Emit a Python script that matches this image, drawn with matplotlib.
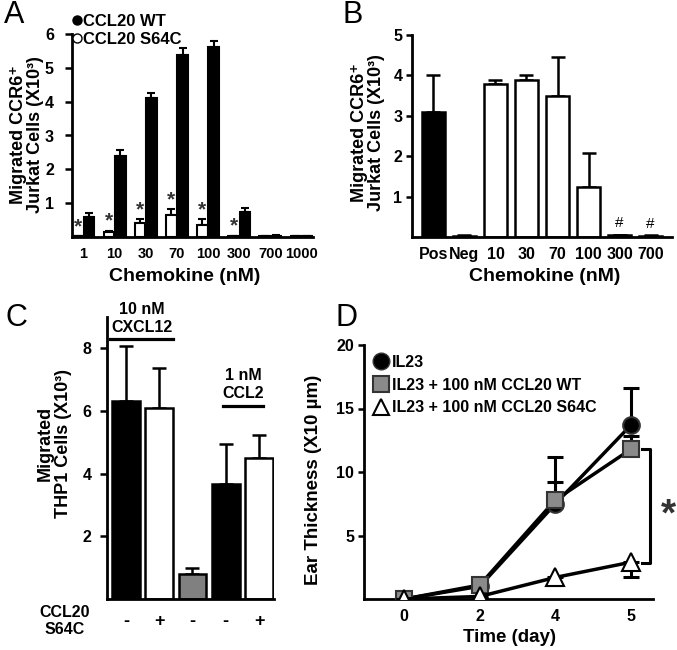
import matplotlib
matplotlib.use('Agg')
import matplotlib.pyplot as plt
from matplotlib.lines import Line2D
import numpy as np

plt.rcParams['font.family'] = ['Liberation Sans', 'DejaVu Sans']
plt.rcParams['font.weight'] = 'bold'

# ---------------- data ----------------
# Panel A
conc_a = ['1', '10', '30', '70', '100', '300', '700', '1000']
wt_a = [0.60, 2.39, 4.12, 5.38, 5.63, 0.75, 0.03, 0.02]
wt_a_err = [0.10, 0.18, 0.13, 0.20, 0.17, 0.10, 0.02, 0.01]
s64c_a = [0.03, 0.16, 0.42, 0.65, 0.35, 0.03, 0.02, 0.02]
s64c_a_err = [0.0, 0.03, 0.10, 0.18, 0.17, 0.01, 0.01, 0.01]
sig_a = ['*', '*', '*', '*', '*', '*', '', '']

# Panel B
cat_b = ['Pos', 'Neg', '10', '30', '70', '100', '300', '700']
val_b = [3.10, 0.03, 3.79, 3.89, 3.49, 1.23, 0.04, 0.03]
err_b = [0.91, 0.01, 0.10, 0.12, 0.96, 0.85, 0.01, 0.01]
fill_b = ['black', 'black', 'white', 'white', 'white', 'white', 'white', 'white']
sig_b = ['', '', '', '', '', '', '#', '#']

# Panel C
val_c = [6.33, 6.11, 0.80, 3.68, 4.51]
err_c = [1.75, 1.27, 0.19, 1.28, 0.74]
fill_c = ['black', 'white', '#808080', 'black', 'white']
sign_c = ['-', '+', '-', '-', '+']

# Panel D
days = ['0', '2', '4', '5']
il23 = [0, 1.0, 7.5, 13.7]
il23_err = [0, 0.2, 3.7, 2.9]
wt_d = [0, 1.1, 7.8, 11.8]
wt_d_err = [0, 0.2, 1.4, 1.0]
s64c_d = [0, 0.2, 1.7, 2.9]
s64c_d_err = [0, 0.1, 0.6, 1.2]

W, H = 677, 650
fig = plt.figure(figsize=(W / 100, H / 100), dpi=100)


def rect(l, t, r, b):
    return [l / W, 1 - b / H, (r - l) / W, (b - t) / H]


def px(x, y):
    return (x / W, 1 - y / H)


def style(ax):
    for s in ['top', 'right']:
        ax.spines[s].set_visible(False)
    for s in ['left', 'bottom']:
        ax.spines[s].set_linewidth(2.0)
    ax.tick_params(axis='y', length=4, width=1.8, labelsize=11.5, pad=3)
    ax.tick_params(axis='x', length=0, labelsize=11.5, pad=7)


LABFS = 13

# ---------------- Panel A ----------------
axA = fig.add_axes(rect(72, 34, 313, 237))
style(axA)
axA.tick_params(axis='y', length=5, pad=8)
axA.tick_params(axis='x', labelsize=10.5)
x = np.arange(len(conc_a))
off, bw = 0.18, 0.34
xw, xb = x - off, x + off
axA.errorbar(xw, s64c_a, yerr=[np.zeros(len(x)), s64c_a_err], fmt='none',
             ecolor='k', elinewidth=1.5, capsize=3, capthick=1.5, zorder=1)
axA.errorbar(xb, wt_a, yerr=[np.zeros(len(x)), wt_a_err], fmt='none',
             ecolor='k', elinewidth=1.5, capsize=3, capthick=1.5, zorder=1)
axA.bar(xw, s64c_a, width=bw, color='white', edgecolor='black', linewidth=1.5, zorder=2)
axA.bar(xb, wt_a, width=bw, color='black', edgecolor='black', linewidth=1.5, zorder=2)
for i, s in enumerate(sig_a):
    if s:
        axA.text(xw[i], s64c_a[i] + s64c_a_err[i] + 0.0, s, ha='center', va='bottom',
                 fontsize=15, color='#333333')
axA.set_xlim(-0.37, 7.37)
axA.set_ylim(0, 6)
axA.set_yticks([1, 2, 3, 4, 5, 6])
axA.set_xticks(x)
axA.set_xticklabels(conc_a)
hA = [Line2D([], [], marker='o', linestyle='none', markerfacecolor='black',
             markeredgecolor='black', markersize=6.5),
      Line2D([], [], marker='o', linestyle='none', markerfacecolor='white',
             markeredgecolor='black', markersize=6.5, markeredgewidth=1)]
fig.legend(hA, ['CCL20 WT', 'CCL20 S64C'], loc='upper left',
           bbox_to_anchor=px(73, 14), frameon=False, fontsize=12,
           handlelength=0.45, handletextpad=0.15, labelspacing=0.15,
           borderpad=0, borderaxespad=0)
fig.text(*px(27, 135), 'Migrated CCR6⁺\nJurkat Cells (X10³)', rotation=90,
         ha='center', va='center', fontsize=LABFS, linespacing=1.0)
fig.text(*px(185, 277), 'Chemokine (nM)', ha='center', va='center', fontsize=14)

# ---------------- Panel B ----------------
axB = fig.add_axes(rect(412, 35, 672, 237))
style(axB)
xb2 = np.arange(len(cat_b))
axB.errorbar(xb2, val_b, yerr=[np.zeros(len(xb2)), err_b], fmt='none',
             ecolor='k', elinewidth=1.8, capsize=5, capthick=1.8, zorder=1)
axB.bar(xb2, val_b, width=0.72, color=fill_b, edgecolor='black', linewidth=1.8, zorder=2)
for i, s in enumerate(sig_b):
    if s:
        axB.text(xb2[i], val_b[i] + err_b[i] + 0.12, s, ha='center', va='bottom',
                 fontsize=11, fontweight='normal')
axB.set_xlim(-0.69, 7.69)
axB.set_ylim(0, 5)
axB.set_yticks([1, 2, 3, 4, 5])
axB.set_xticks(xb2)
axB.set_xticklabels(cat_b)
fig.text(*px(368, 133), 'Migrated CCR6⁺\nJurkat Cells (X10³)', rotation=90,
         ha='center', va='center', fontsize=LABFS, linespacing=1.0)
fig.text(*px(545, 277), 'Chemokine (nM)', ha='center', va='center', fontsize=14)

# ---------------- Panel C ----------------
axC = fig.add_axes(rect(107, 317, 274, 599))
style(axC)
axC.tick_params(axis='y', length=5, pad=6)
xc = np.arange(len(val_c))
axC.errorbar(xc, val_c, yerr=[np.zeros(len(xc)), err_c], fmt='none',
             ecolor='k', elinewidth=1.8, capsize=5, capthick=1.8, zorder=1)
axC.bar(xc, val_c, width=0.84, color=fill_c, edgecolor='black', linewidth=1.8, zorder=2)
axC.set_xlim(-0.57, 4.45)
axC.set_ylim(0, 9)
axC.set_yticks([2, 4, 6, 8])
axC.set_xticks(xc)
axC.set_xticklabels(sign_c, fontsize=13)
axC.tick_params(axis='x', pad=10)
axC.text(0.47, 9.24, '10 nM', ha='center', va='center', fontsize=11.5, clip_on=False)
axC.text(0.47, 8.67, 'CXCL12', ha='center', va='center', fontsize=11.5, clip_on=False)
axC.plot([-0.48, 1.41], [8.29, 8.29], color='k', lw=2.3, clip_on=False)
axC.text(3.53, 7.14, '1 nM', ha='center', va='center', fontsize=11.5)
axC.text(3.53, 6.57, 'CCL2', ha='center', va='center', fontsize=11.5)
axC.plot([2.92, 4.12], [6.17, 6.17], color='k', lw=2.3)
fig.text(*px(54, 443), 'Migrated\nTHP1 Cells (X10³)', rotation=90,
         ha='center', va='center', fontsize=LABFS, linespacing=1.1)
fig.text(*px(65, 621), 'CCL20\nS64C', ha='center', va='center', fontsize=11.5,
         linespacing=1.1)

# ---------------- Panel D ----------------
axD = fig.add_axes(rect(364, 345, 653, 599))
style(axD)
xd = np.arange(len(days))
axD.errorbar(xd, il23, yerr=[np.zeros(len(xd)), il23_err], fmt='none', ecolor='k',
             elinewidth=2.2, capsize=5.5, capthick=2.2, zorder=1)
axD.plot(xd, il23, color='k', lw=2.5, marker='o', markersize=12,
         markerfacecolor='black', markeredgecolor='#333333', markeredgewidth=1.5, zorder=2)
axD.errorbar(xd, wt_d, yerr=[np.zeros(len(xd)), wt_d_err], fmt='none', ecolor='k',
             elinewidth=2.2, capsize=5.5, capthick=2.2, zorder=3)
axD.plot(xd, wt_d, color='k', lw=2.5, marker='s', markersize=12,
         markerfacecolor='#8a8a8a', markeredgecolor='#333333', markeredgewidth=1.5, zorder=4)
axD.errorbar(xd, s64c_d, yerr=[s64c_d_err, np.zeros(len(xd))], fmt='none', ecolor='k',
             elinewidth=2.2, capsize=5.5, capthick=2.2, zorder=5)
axD.plot(xd, s64c_d, color='k', lw=2.5, marker='^', markersize=13,
         markerfacecolor='white', markeredgecolor='black', markeredgewidth=1.5, zorder=6)
axD.set_xlim(-0.53, 3.29)
axD.set_ylim(0, 20)
axD.set_yticks([5, 10, 15, 20])
axD.set_xticks(xd)
axD.set_xticklabels(days)
xbr = 3.25
axD.plot([xbr - 0.1, xbr, xbr, xbr - 0.1], [11.8, 11.8, 2.85, 2.85], color='k',
         lw=2.2, clip_on=False)
axD.text(3.49, 6.6, '*', ha='center', va='center', fontsize=28, color='#333333',
         clip_on=False)
hD = [Line2D([], [], marker='o', linestyle='none', markerfacecolor='black',
             markeredgecolor='#333333', markersize=12),
      Line2D([], [], marker='s', linestyle='none', markerfacecolor='#8a8a8a',
             markeredgecolor='#333333', markersize=11, markeredgewidth=1.5),
      Line2D([], [], marker='^', linestyle='none', markerfacecolor='white',
             markeredgecolor='black', markersize=12, markeredgewidth=1.5)]
fig.legend(hD, ['IL23', 'IL23 + 100 nM CCL20 WT', 'IL23 + 100 nM CCL20 S64C'],
           loc='upper left', bbox_to_anchor=px(374, 355), frameon=False, fontsize=11.5,
           handlelength=0.9, handletextpad=0.25, labelspacing=0.48,
           borderpad=0, borderaxespad=0)
fig.text(*px(313, 480), 'Ear Thickness (X10 µm)', rotation=90, ha='center',
         va='center', fontsize=13.5)
fig.text(*px(510, 637), 'Time (day)', ha='center', va='center', fontsize=13.5)

# panel letters
for lab, (lx, ly) in zip(['A', 'B', 'C', 'D'], [(14, 15), (353, 15), (16, 318), (346, 318)]):
    fig.text(*px(lx, ly), lab, ha='center', va='center', fontsize=22, fontweight='normal')

fig.savefig('out.png', dpi=100)
